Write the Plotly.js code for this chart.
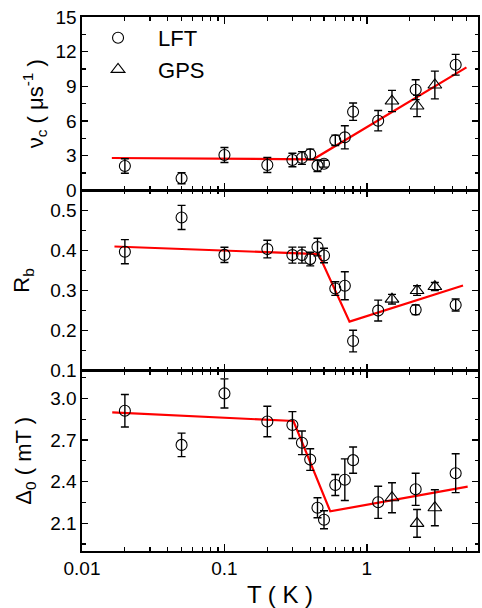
<!DOCTYPE html>
<html>
<head>
<meta charset="utf-8">
<script src="https://cdn.plot.ly/plotly-3.0.1.min.js"></script>
<style>html,body{margin:0;padding:0;background:#fff;}#chart{width:482px;height:608px;}</style>
</head>
<body>
<div id="chart"></div>
<script>
// ---- data ----
const lftT = [0.02, 0.05, 0.1, 0.2, 0.3, 0.35, 0.4, 0.45, 0.5, 0.6, 0.7, 0.8, 1.2, 2.2, 4.2];
const gpsT = [1.5, 2.25, 3.0];

const nuLFT    = [2.11, 1.05, 3.06, 2.20, 2.63, 2.80, 3.12, 2.14, 2.31, 4.33, 4.59, 6.81, 6.03, 8.71, 10.87];
const nuLFTerr = [0.63, 0.48, 0.65, 0.65, 0.58, 0.55, 0.45, 0.50, 0.30, 0.45, 1.00, 0.75, 0.88, 0.86, 0.90];
const nuGPS    = [7.73, 7.30, 9.12];
const nuGPSerr = [0.92, 0.92, 1.20];

const rbLFT    = [0.397, 0.4825, 0.389, 0.4035, 0.3885, 0.3885, 0.3785, 0.4085, 0.3875, 0.305, 0.312, 0.174, 0.250, 0.252, 0.264];
const rbLFTerr = [0.030, 0.030, 0.019, 0.022, 0.020, 0.020, 0.017, 0.022, 0.018, 0.017, 0.035, 0.027, 0.026, 0.012, 0.015];
const rbGPS    = [0.2785, 0.300, 0.310];
const rbGPSerr = [0.012, 0.012, 0.010];

const dLFT     = [2.911, 2.665, 3.036, 2.834, 2.808, 2.680, 2.559, 2.212, 2.125, 2.376, 2.414, 2.555, 2.251, 2.345, 2.461];
const dLFTerr  = [0.117, 0.085, 0.105, 0.110, 0.097, 0.085, 0.078, 0.072, 0.065, 0.076, 0.150, 0.095, 0.116, 0.116, 0.140];
const dGPS     = [2.284, 2.099, 2.212];
const dGPSerr  = [0.108, 0.100, 0.130];

// fit lines (piecewise)
const nuFitT = [0.0162, 0.42, 5.0];
const nuFitV = [2.80, 2.69, 10.64];
const rbFitT = [0.0169, 0.458, 0.755, 4.73];
const rbFitV = [0.410, 0.391, 0.2225, 0.3125];
const dFitT  = [0.0163, 0.305, 0.553, 5.1];
const dFitV  = [2.899, 2.837, 2.186, 2.364];

const xTickVals = [0.01, 0.1, 1];
const xTickText = ['0.01', '0.1', '1'];
const xMinor = [0.02,0.03,0.04,0.05,0.06,0.07,0.08,0.09,0.2,0.3,0.4,0.5,0.6,0.7,0.8,0.9,2,3,4,5];

// ---- traces ----
const FONT = 'Liberation Sans, Arial, sans-serif';
function pts(x, y, err, sym, name, xa, ya, show) {
  return {
    type: 'scatter', mode: 'markers', x: x, y: y, name: name,
    xaxis: xa, yaxis: ya, showlegend: show, legendgroup: name,
    marker: {symbol: sym, size: sym.indexOf('triangle') === 0 ? 12 : 11, color: 'black', line: {width: 1.1, color: 'black'}},
    error_y: {type: 'data', array: err, visible: true, color: 'black', thickness: 1.4, width: 4}
  };
}
function fit(x, y, xa, ya) {
  return {type: 'scatter', mode: 'lines', x: x, y: y, xaxis: xa, yaxis: ya, showlegend: false,
    line: {color: '#ff0000', width: 2.2}, hoverinfo: 'skip'};
}
const data = [
  fit(nuFitT, nuFitV, 'x', 'y'),
  fit(rbFitT, rbFitV, 'x2', 'y2'),
  fit(dFitT, dFitV, 'x3', 'y3'),
  pts(lftT, nuLFT, nuLFTerr, 'circle-open', 'LFT', 'x', 'y', true),
  pts(gpsT, nuGPS, nuGPSerr, 'triangle-up-open', 'GPS', 'x', 'y', true),
  pts(lftT, rbLFT, rbLFTerr, 'circle-open', 'LFT', 'x2', 'y2', false),
  pts(gpsT, rbGPS, rbGPSerr, 'triangle-up-open', 'GPS', 'x2', 'y2', false),
  pts(lftT, dLFT, dLFTerr, 'circle-open', 'LFT', 'x3', 'y3', false),
  pts(gpsT, dGPS, dGPSerr, 'triangle-up-open', 'GPS', 'x3', 'y3', false)
];

// ---- axes ----
function xax(anchor, labels) {
  return {
    type: 'log', range: [-2, 0.78], anchor: anchor,
    tickmode: 'array', tickvals: xTickVals, ticktext: xTickText, showticklabels: labels,
    ticks: 'inside', ticklen: 7, tickwidth: 1.3, tickcolor: 'black',
    minor: {tickmode: 'array', tickvals: xMinor, ticks: 'inside', ticklen: 4, tickwidth: 1.2, tickcolor: 'black', showgrid: false},
    showline: true, linecolor: 'black', linewidth: 1.6, mirror: 'ticks',
    showgrid: false, zeroline: false,
    tickfont: {family: FONT, size: 19, color: 'black'}
  };
}
function yax(domain, range, vals, text, minorDt, title, standoff) {
  return {
    domain: domain, range: range, tickmode: 'array', tickvals: vals, ticktext: text,
    ticks: 'inside', ticklen: 6, tickwidth: 1.3, tickcolor: 'black',
    minor: {dtick: minorDt, ticks: 'inside', ticklen: 3.5, tickwidth: 1.2, tickcolor: 'black', showgrid: false},
    showline: true, linecolor: 'black', linewidth: 1.6, mirror: 'ticks',
    showgrid: false, zeroline: false,
    tickfont: {family: FONT, size: 19, color: 'black'},
    title: {text: title, font: {family: FONT, size: 22, color: 'black'}, standoff: standoff}
  };
}

const layout = {
  width: 482, height: 608,
  margin: {l: 82, r: 4, t: 17, b: 57},
  paper_bgcolor: 'white', plot_bgcolor: 'white',
  font: {family: FONT, color: 'black'},
  showlegend: true,
  legend: {x: -0.01, y: 1.0, xanchor: 'left', yanchor: 'top', bgcolor: 'rgba(0,0,0,0)',
    font: {family: FONT, size: 22, color: 'black'}, itemwidth: 70, tracegroupgap: 0},
  xaxis: xax('y', false),
  xaxis2: Object.assign(xax('y2', false), {matches: 'x'}),
  xaxis3: Object.assign(xax('y3', true), {matches: 'x', title: {text: 'T ( K )', font: {family: FONT, size: 24, color: 'black'}, standoff: 9}}),
  yaxis: yax([0.6753, 1], [0, 15], [0, 3, 6, 9, 12, 15], ['0', '3', '6', '9', '12', '15'], 1.5,
    'ν<sub>c</sub> ( μs<sup>-1</sup> )', 6),
  yaxis2: yax([0.3377, 0.6753], [0.1, 0.55], [0.1, 0.2, 0.3, 0.4, 0.5], ['0.1', '0.2', '0.3', '0.4', '0.5'], 0.05,
    'R<sub>b</sub>', 14),
  yaxis3: yax([0, 0.3377], [1.9, 3.2], [2.1, 2.4, 2.7, 3.0], ['2.1', '2.4', '2.7', '3.0'], 0.15,
    'Δ<sub>0</sub> ( mT )', 12)
};

Plotly.newPlot('chart', data, layout, {displayModeBar: false, staticPlot: true});
</script>
</body>
</html>
